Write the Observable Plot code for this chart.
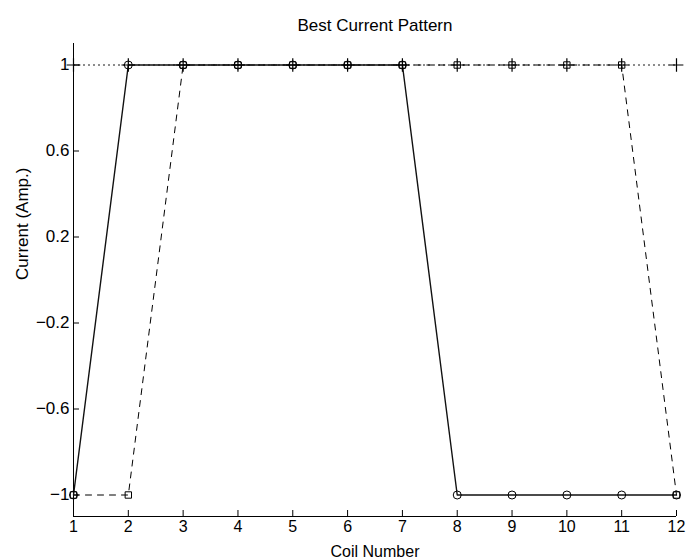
<!DOCTYPE html>
<html>
<head>
<meta charset="utf-8">
<script src="https://cdn.jsdelivr.net/npm/d3@7"></script>
<script src="https://cdn.jsdelivr.net/npm/@observablehq/plot@0.6"></script>
<style>
  html, body { margin: 0; padding: 0; background: #fff; }
  #chart svg { display: block; font-family: "Liberation Sans", Arial, Helvetica, sans-serif; }
</style>
</head>
<body>
<div id="chart"></div>
<script>
// Coil indices and current patterns (amperes)
const coils = [1, 2, 3, 4, 5, 6, 7, 8, 9, 10, 11, 12];
const patternA = [-1, 1, 1, 1, 1, 1, 1, -1, -1, -1, -1, -1];   // solid, circles
const patternB = [-1, -1, 1, 1, 1, 1, 1, 1, 1, 1, 1, -1];      // dashed, squares
const patternC = [1, 1, 1, 1, 1, 1, 1, 1, 1, 1, 1, 1];         // dotted, plus signs

const xTicks = [1, 2, 3, 4, 5, 6, 7, 8, 9, 10, 11, 12];
const yTicks = [-1, -0.6, -0.2, 0.2, 0.6, 1];
const xDomain = [1, 12];
const yDomain = [-1.1, 1.1];

const titleText = "Best Current Pattern";
const xLabel = "Coil Number";
const yLabel = "Current (Amp.)";

const rows = (ys) => coils.map((c, i) => ({coil: c, current: ys[i]}));
const dataA = rows(patternA);
const dataB = rows(patternB);
const dataC = rows(patternC);

const fmt = d3.format("~g");

// frame geometry
const W = 689, H = 560;
const mTop = 43, mBottom = 44, mLeft = 73, mRight = 13;
const innerW = W - mLeft - mRight;
const innerH = H - mTop - mBottom;
const tickLen = 6; // inward tick length

const chart = Plot.plot({
  width: W,
  height: H,
  marginTop: mTop,
  marginBottom: mBottom,
  marginLeft: mLeft,
  marginRight: mRight,
  style: {fontSize: "17px", fontFamily: "'Liberation Sans', Arial, Helvetica, sans-serif", color: "#000", background: "#fff"},
  x: {domain: xDomain},
  y: {domain: yDomain},
  marks: [
    // axis spines (left and bottom only)
    Plot.ruleX([xDomain[0]], {stroke: "#000", strokeWidth: 1}),
    Plot.ruleY([yDomain[0]], {stroke: "#000", strokeWidth: 1}),
    // inward tick marks
    Plot.tickX(xTicks, {x: d => d, insetTop: innerH - tickLen, stroke: "#000"}),
    Plot.tickY(yTicks, {y: d => d, insetRight: innerW - tickLen, stroke: "#000"}),
    // tick labels
    Plot.axisX({ticks: xTicks, tickSize: 0, tickPadding: 4, tickFormat: fmt, label: null, fontSize: 16}),
    Plot.axisY({ticks: yTicks, tickSize: 0, tickPadding: 4, tickFormat: fmt, label: null, fontSize: 17}),

    // dotted series with plus markers
    Plot.line(dataC, {x: "coil", y: "current", stroke: "#000", strokeWidth: 1, strokeDasharray: "1,4"}),
    // dashed series with square markers
    Plot.line(dataB, {x: "coil", y: "current", stroke: "#000", strokeWidth: 1, strokeDasharray: "6,6"}),
    // solid series with circle markers
    Plot.line(dataA, {x: "coil", y: "current", stroke: "#111", strokeWidth: 1.4}),

    Plot.dot(dataA, {x: "coil", y: "current", symbol: "circle", r: 4, stroke: "#000", fill: "none", strokeWidth: 1}),
    Plot.dot(dataB, {x: "coil", y: "current", symbol: "square", r: 3.6, stroke: "#000", fill: "none", strokeWidth: 1}),
    Plot.dot(dataC, {x: "coil", y: "current", symbol: "plus", r: 4.5, stroke: "#000", fill: "none", strokeWidth: 1.2}),

    // title and axis labels
    Plot.text([titleText], {frameAnchor: "top", dy: -25, fontSize: 17, fill: "#000"}),
    Plot.text([xLabel], {frameAnchor: "bottom", dy: 40, lineAnchor: "bottom", fontSize: 16, fill: "#000"}),
    Plot.text([yLabel], {frameAnchor: "left", dx: -51, rotate: -90, fontSize: 17, fill: "#000"})
  ]
});

document.getElementById("chart").appendChild(chart);
</script>
</body>
</html>
